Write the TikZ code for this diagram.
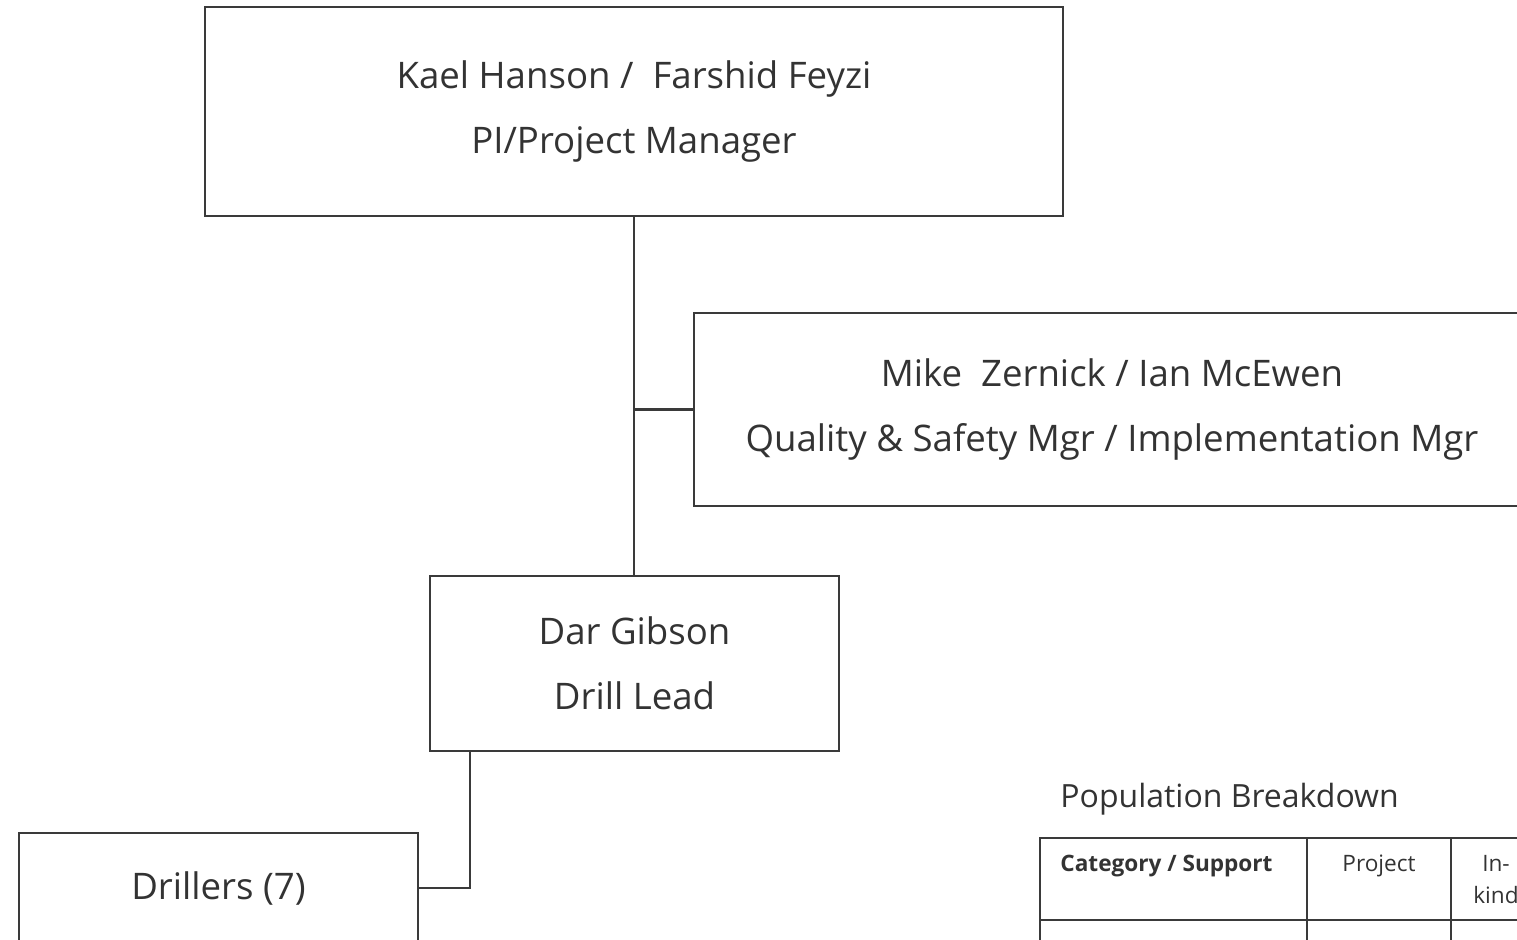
\documentclass[tikz,border=0pt]{standalone}
\usepackage{fontspec}
\setmainfont{Open Sans}
\usetikzlibrary{positioning}
\definecolor{ink}{HTML}{333333}
\definecolor{rule}{HTML}{3A3A3A}

\begin{document}
\begin{tikzpicture}[x=0.5pt,y=-0.5pt,
  box/.style={draw=rule,line width=1.25pt,fill=white,inner sep=0pt,align=center,text=ink,font=\fontsize{18.3}{32.5}\selectfont},
  cell/.style={draw=rule,line width=1.4pt,inner sep=0pt,outer sep=0pt,anchor=north west},
  celltxt/.style={text=ink,inner sep=0pt,font=\fontsize{11.3}{16}\selectfont},
  link/.style={draw=rule,line width=1.25pt}]
\clip (0,0) rectangle (1517,940);
% org chart
\node[box,minimum width=429pt,minimum height=104.5pt] (pi) at (634,111.5) {Kael Hanson /\ \ Farshid Feyzi\\PI/Project Manager};
\node[box,minimum width=418pt,minimum height=96.5pt] (qs) at (1112,409.5) {Mike\ \ Zernick / Ian McEwen\\Quality \& Safety Mgr / Implementation Mgr};
\node[box,minimum width=204.5pt,minimum height=87.5pt] (lead) at (634.5,663.5) {Dar Gibson\\Drill Lead};
\node[box,minimum width=199.5pt,minimum height=55pt] (drill) at (218.5,888) {Drillers (7)};
\draw[link] (pi.south) -- (pi.south |- lead.north);
\draw[link] (qs.west) -- (qs.west -| pi.south);
\draw[link] ([xshift=20.5pt]lead.south west) |- (drill.east);
% population table
\node[text=ink,inner sep=0pt,anchor=base west,font=\fontsize{16}{18}\selectfont] (poptitle) at (1060,808) {Population Breakdown};
\node[cell,minimum width=133.5pt,minimum height=41pt] (hcat) at (1040,838) {};
\node[cell,minimum width=72pt,minimum height=41pt,right=0pt of hcat] (hproj) {};
\node[cell,minimum width=46pt,minimum height=41pt,right=0pt of hproj] (hkind) {};
\node[cell,minimum width=133.5pt,minimum height=30pt,below=0pt of hcat] (rcat) {};
\node[cell,minimum width=72pt,minimum height=30pt,below=0pt of hproj] (rproj) {};
\node[cell,minimum width=46pt,minimum height=30pt,below=0pt of hkind] (rkind) {};
\node[celltxt,anchor=base west] (tcat) at (1060,872) {\bfseries Category / Support};
\node[celltxt,anchor=base] (tproj) at (hproj.center |- tcat.base) {Project};
\node[celltxt,anchor=north,align=center] (tkind) at (1496,855) {In-\\kind};
\end{tikzpicture}
\end{document}
